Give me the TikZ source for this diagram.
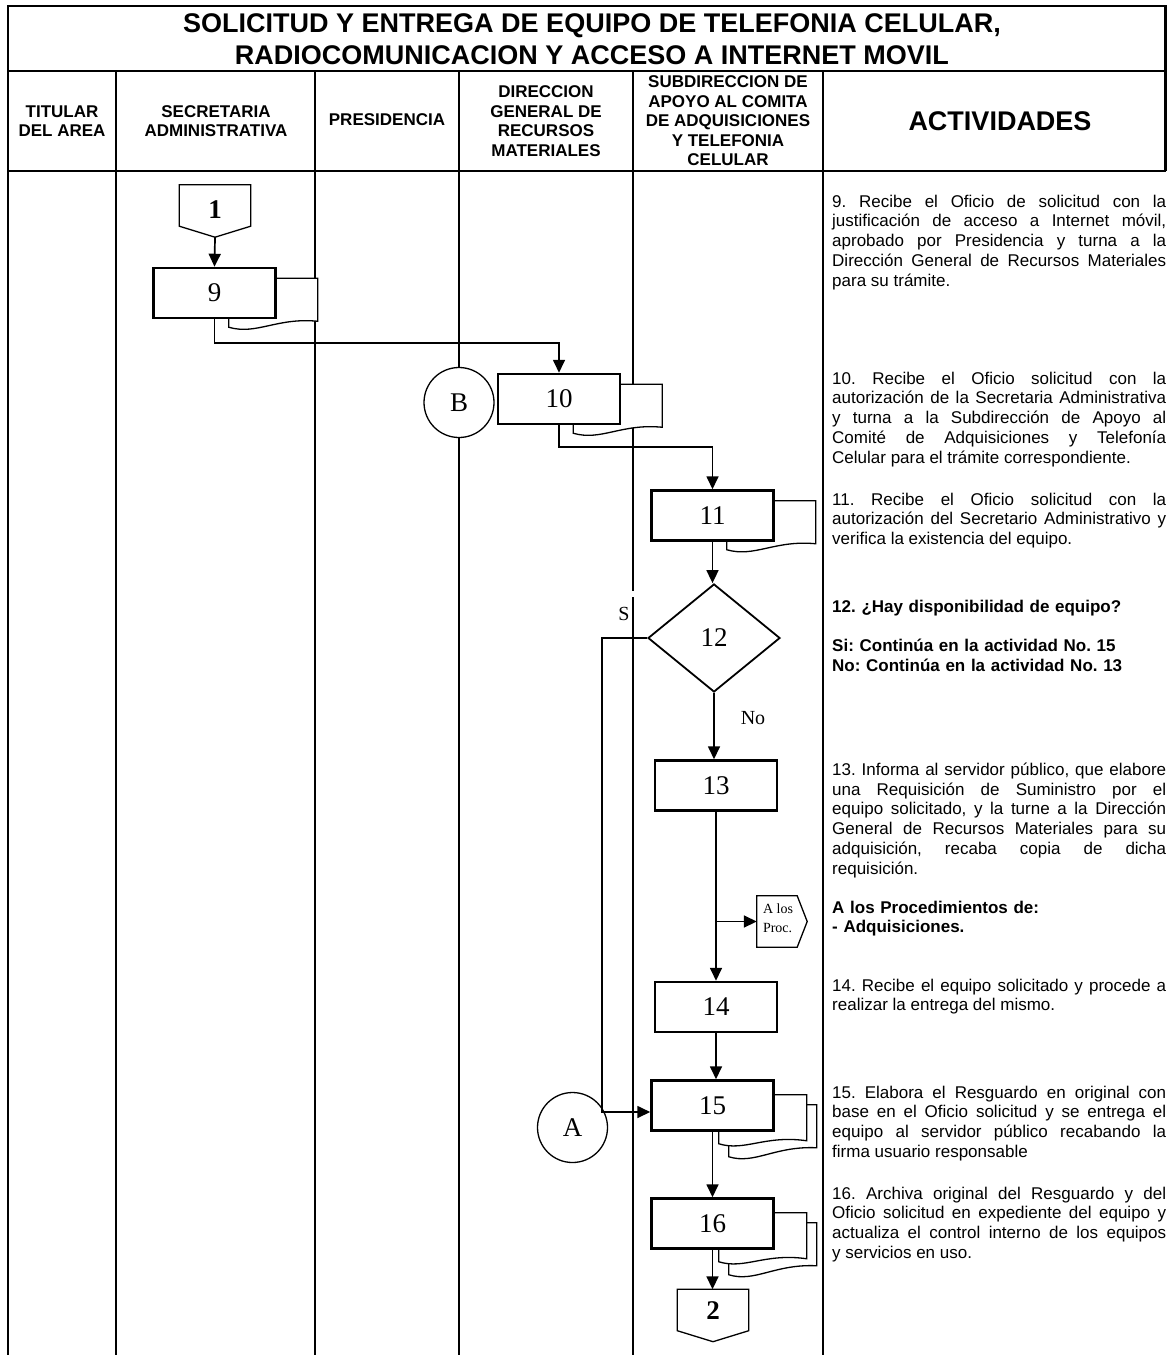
\documentclass[tikz,border=0pt]{standalone}
\usepackage{fontspec}
\setmainfont{Liberation Sans}
\newfontfamily\numfont{Liberation Serif}
\usetikzlibrary{shapes.geometric, arrows.meta}
\frenchspacing

\pgfdeclarelayer{lanes}
\pgfdeclarelayer{docs}
\pgfsetlayers{lanes,docs,main}

\tikzset{
  box/.style={draw, line width=2.5pt, fill=white, minimum width=122pt, minimum height=50pt, inner sep=0pt, font=\numfont\fontsize{27}{30}\selectfont},
  decision/.style={diamond, draw, line width=1.8pt, fill=white, minimum width=132pt, minimum height=108pt, inner sep=0pt, font=\numfont\fontsize{27}{30}\selectfont},
  link/.style={circle, draw, line width=1.3pt, fill=white, minimum size=70pt, inner sep=0pt, font=\numfont\fontsize{27}{30}\selectfont},
  offpage/.style={minimum width=71pt, minimum height=52pt, inner sep=0pt, font=\numfont\bfseries\fontsize{27}{30}\selectfont},
  offright/.style={minimum width=50pt, minimum height=51pt, inner sep=0pt, align=left, font=\numfont\fontsize{14}{19}\selectfont},
  shapeline/.style={line width=1.3pt, fill=white},
  flow/.style={line width=1.7pt, -{Triangle[length=13pt, width=12pt]}},
  docline/.style={line width=1.3pt, fill=white},
  lbl/.style={inner sep=0pt, font=\numfont\fontsize{20}{20}\selectfont},
  hdr/.style={align=center, inner sep=0pt, font=\bfseries\fontsize{17}{19.5}\selectfont},
  act/.style={anchor=north west, inner sep=0pt, text width=334pt, align=justify, font=\fontsize{17}{19.8}\selectfont}
}

% document symbol behind a box
\newcommand\docback[1]{%
  \begin{scope}[shift={(#1.south east)}]
    \draw[docline] (-48,-41) -- (-48,8) .. controls (-20,16) and (0,-2) .. (41,2) -- (41,-41) -- cycle;
  \end{scope}}
% several documents behind a box
\newcommand\multidoc[1]{%
  \begin{scope}[shift={(#1.south east)}]
    \draw[docline] (-46,-27) -- (-46,25) .. controls (-20,33) and (0,14) .. (42,16) -- (42,-27) -- cycle;
    \draw[docline] (-56,-37) -- (-56,12) .. controls (-30,20) and (-10,3) .. (32,9) -- (32,-37) -- cycle;
  \end{scope}}

\begin{document}
\begin{tikzpicture}[x=1pt, y=-1pt]
  \useasboundingbox (0,0) rectangle (1167,1355);

  \begin{pgfonlayer}{lanes}
    % Frame of title and header
    \draw[line width=2.5pt] (8,1355) -- (8,6) -- (1165.5,6) -- (1165.5,171);
    \draw[line width=2.5pt] (8,71) -- (1165.5,71);
    \draw[line width=2.5pt] (8,171) -- (1165.5,171);
    % Lane lines
    \draw[line width=1.3pt] (116,71) -- (116,1355);
    \draw[line width=1.3pt] (315,71) -- (315,1355);
    \draw[line width=1.8pt] (459,71) -- (459,1355);
    \draw[line width=2.8pt] (633,71) -- (633,591);
    \draw[line width=2.8pt] (633,597) -- (633,1355);
    \draw[line width=2.3pt] (823,71) -- (823,1355);
  \end{pgfonlayer}

  % Title
  \node[align=center, font=\bfseries\fontsize{27}{32}\selectfont] (title) at (592,39)
    {SOLICITUD Y ENTREGA DE EQUIPO DE TELEFONIA CELULAR,\\RADIOCOMUNICACION Y ACCESO A INTERNET MOVIL};

  % Column labels
  \node[hdr] (titular) at (62,121) {TITULAR\\DEL AREA};
  \node[hdr] (secretaria) at (216,121) {SECRETARIA\\ADMINISTRATIVA};
  \node[hdr] (presidencia) at (387,120) {PRESIDENCIA};
  \node[hdr] (direccion) at (546,121) {DIRECCION\\GENERAL DE\\RECURSOS\\MATERIALES};
  \node[hdr] (subdireccion) at (728,121) {SUBDIRECCION DE\\APOYO AL COMITA\\DE ADQUISICIONES\\Y TELEFONIA\\CELULAR};
  \node[hdr, font=\bfseries\fontsize{27}{30}\selectfont] (actividades) at (1000,121) {ACTIVIDADES};

  % Flow symbols
  \node[offpage] (p1) at (215,211) {};
  \draw[shapeline] (p1.north west) -- (p1.north east) -- ([yshift=11pt]p1.south east)
     -- (p1.south) -- ([yshift=11pt]p1.south west) -- cycle;
  \node[offpage] (p1t) at (215,210) {1};
  \node[box] (b9) at (214.5,293) {9};
  \node[box] (b10) at (559,399) {10};
  \node[link] (cB) at (459,402.5) {B};
  \node[box] (b11) at (712.5,515.5) {11};
  \node[decision] (d12) at (714,638) {12};
  \node[box] (b13) at (716,785.5) {13};
  \node[offright] (pp) at (782,921.5) {};
  \draw[shapeline] (pp.north west) -- ([xshift=-10pt]pp.north east) -- (pp.east)
     -- ([xshift=-10pt]pp.south east) -- (pp.south west) -- cycle;
  \node[offright, minimum width=40pt] (ppt) at (778,918) {A los\\Proc.};
  \node[box] (b14) at (716,1007) {14};
  \node[box] (b15) at (712.5,1105.5) {15};
  \node[link] (cA) at (572.5,1127.5) {A};
  \node[box] (b16) at (712.5,1223.5) {16};
  \node[offpage] (p2) at (713,1315.5) {};
  \draw[shapeline] (p2.north west) -- (p2.north east) -- ([yshift=11pt]p2.south east)
     -- (p2.south) -- ([yshift=11pt]p2.south west) -- cycle;
  \node[offpage] (p2t) at (713,1311) {2};

  \begin{pgfonlayer}{docs}
    \docback{b9}
    \docback{b10}
    \docback{b11}
    \multidoc{b15}
    \multidoc{b16}
  \end{pgfonlayer}

  % Connectors
  \draw[flow] (p1.south) -- (b9.north);
  \draw[flow] (b9.south) -- ++(0,24) -| (b10.north);
  \draw[flow] (b10.south) -- ++(0,22) -| (b11.north);
  \draw[flow] (b11.south) -- (b11.south |- d12.north);
  \draw[flow] (d12.south) -- (d12.south |- b13.north);
  \draw[flow] (b13.south) -- (b13.south |- b14.north);
  \draw[flow] (b13.south |- pp.west) -- (pp.west);
  \draw[flow] (b14.south) -- (b14.south |- b15.north);
  \draw[flow] (d12.west) -- ++(-45,0) |- ([yshift=-6.5pt]b15.west);
  \draw[flow] (b15.south) -- (b16.north);
  \draw[flow] (b16.south) -- (b16.south |- p2.north);
  \node[lbl] (si) at (624,614) {S};
  \node[lbl] (no) at (753,718) {No};

  % Activities
  \node[act] (a9) at (832,194.5) {9. Recibe el Oficio de solicitud con la\linebreak
    justificación de acceso a Internet móvil,\linebreak
    aprobado por Presidencia y turna a la\linebreak
    Dirección General de Recursos Materiales\linebreak
    para su trámite.};
  \node[act] (a10) at (832,371.5) {10. Recibe el Oficio solicitud con la\linebreak
    autorización de la Secretaria Administrativa\linebreak
    y turna a la Subdirección de Apoyo al\linebreak
    Comité de Adquisiciones y Telefonía\linebreak
    Celular para el trámite correspondiente.};
  \node[act] (a11) at (832,492.5) {11. Recibe el Oficio solicitud con la\linebreak
    autorización del Secretario Administrativo y\linebreak
    verifica la existencia del equipo.};
  \node[act, align=left, font=\bfseries\fontsize{17}{19.8}\selectfont] (a12) at (832,599.5)
    {12. ¿Hay disponibilidad de equipo?\\[19.8pt]
     Si: Continúa en la actividad No. 15\\
     No: Continúa en la actividad No. 13};
  \node[act] (a13) at (832,762.5) {13. Informa al servidor público, que elabore\linebreak
    una Requisición de Suministro por el\linebreak
    equipo solicitado, y la turne a la Dirección\linebreak
    General de Recursos Materiales para su\linebreak
    adquisición, recaba copia de dicha\linebreak
    requisición.};
  \node[act, align=left, font=\bfseries\fontsize{17}{19.8}\selectfont] (a13b) at (832,900.5)
    {A los Procedimientos de:\\- Adquisiciones.};
  \node[act] (a14) at (832,978.5) {14. Recibe el equipo solicitado y procede a\linebreak
    realizar la entrega del mismo.};
  \node[act] (a15) at (832,1085.5) {15. Elabora el Resguardo en original con\linebreak
    base en el Oficio solicitud y se entrega el\linebreak
    equipo al servidor público recabando la\linebreak
    firma usuario responsable};
  \node[act] (a16) at (832,1186.5) {16. Archiva original del Resguardo y del\linebreak
    Oficio solicitud en expediente del equipo y\linebreak
    actualiza el control interno de los equipos\linebreak
    y servicios en uso.};
\end{tikzpicture}
\end{document}
